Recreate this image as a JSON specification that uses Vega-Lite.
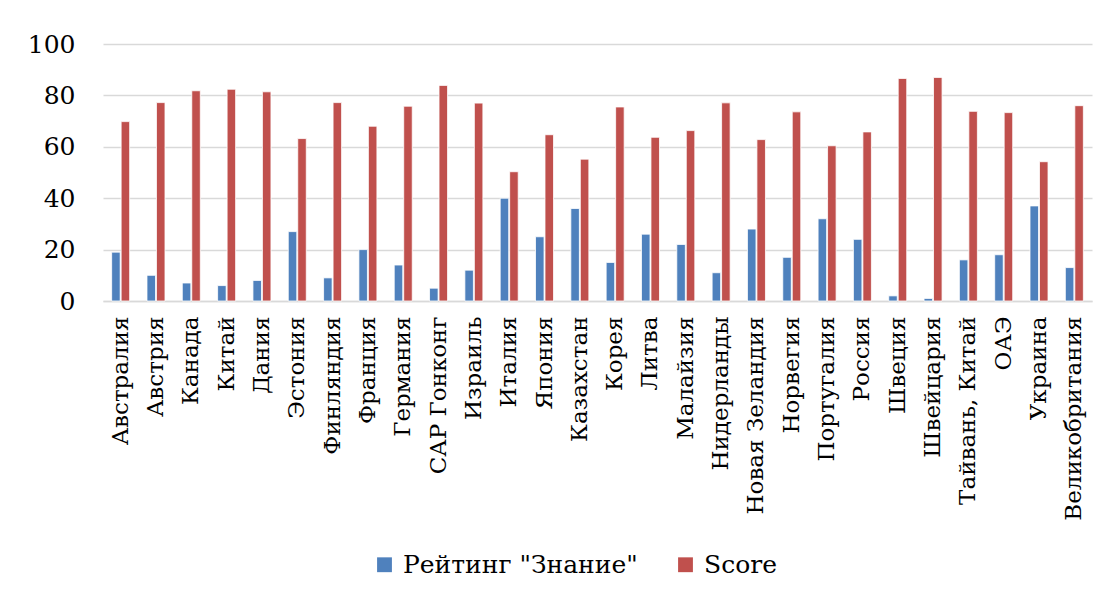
{
  "$schema": "https://vega.github.io/schema/vega-lite/v6.json",
  "autosize": {"type": "none"},
  "padding": {"left": 103, "top": 44, "right": 15, "bottom": 295},
  "width": 989,
  "height": 257,
  "background": "white",
  "data": {
    "values": [
      {"country": "Австралия", "series": "Рейтинг \"Знание\"", "value": 19},
      {"country": "Австралия", "series": "Score", "value": 69.8},
      {"country": "Австрия", "series": "Рейтинг \"Знание\"", "value": 10},
      {"country": "Австрия", "series": "Score", "value": 77.2},
      {"country": "Канада", "series": "Рейтинг \"Знание\"", "value": 7},
      {"country": "Канада", "series": "Score", "value": 81.8},
      {"country": "Китай", "series": "Рейтинг \"Знание\"", "value": 6},
      {"country": "Китай", "series": "Score", "value": 82.4},
      {"country": "Дания", "series": "Рейтинг \"Знание\"", "value": 8},
      {"country": "Дания", "series": "Score", "value": 81.4},
      {"country": "Эстония", "series": "Рейтинг \"Знание\"", "value": 27},
      {"country": "Эстония", "series": "Score", "value": 63.2},
      {"country": "Финляндия", "series": "Рейтинг \"Знание\"", "value": 9},
      {"country": "Финляндия", "series": "Score", "value": 77.2},
      {"country": "Франция", "series": "Рейтинг \"Знание\"", "value": 20},
      {"country": "Франция", "series": "Score", "value": 68},
      {"country": "Германия", "series": "Рейтинг \"Знание\"", "value": 14},
      {"country": "Германия", "series": "Score", "value": 75.8},
      {"country": "САР Гонконг", "series": "Рейтинг \"Знание\"", "value": 5},
      {"country": "САР Гонконг", "series": "Score", "value": 83.9},
      {"country": "Израиль", "series": "Рейтинг \"Знание\"", "value": 12},
      {"country": "Израиль", "series": "Score", "value": 77},
      {"country": "Италия", "series": "Рейтинг \"Знание\"", "value": 40},
      {"country": "Италия", "series": "Score", "value": 50.3},
      {"country": "Япония", "series": "Рейтинг \"Знание\"", "value": 25},
      {"country": "Япония", "series": "Score", "value": 64.7},
      {"country": "Казахстан", "series": "Рейтинг \"Знание\"", "value": 36},
      {"country": "Казахстан", "series": "Score", "value": 55.2},
      {"country": "Корея", "series": "Рейтинг \"Знание\"", "value": 15},
      {"country": "Корея", "series": "Score", "value": 75.5},
      {"country": "Литва", "series": "Рейтинг \"Знание\"", "value": 26},
      {"country": "Литва", "series": "Score", "value": 63.7},
      {"country": "Малайзия", "series": "Рейтинг \"Знание\"", "value": 22},
      {"country": "Малайзия", "series": "Score", "value": 66.3},
      {"country": "Нидерланды", "series": "Рейтинг \"Знание\"", "value": 11},
      {"country": "Нидерланды", "series": "Score", "value": 77.1},
      {"country": "Новая Зеландия", "series": "Рейтинг \"Знание\"", "value": 28},
      {"country": "Новая Зеландия", "series": "Score", "value": 62.8},
      {"country": "Норвегия", "series": "Рейтинг \"Знание\"", "value": 17},
      {"country": "Норвегия", "series": "Score", "value": 73.6},
      {"country": "Португалия", "series": "Рейтинг \"Знание\"", "value": 32},
      {"country": "Португалия", "series": "Score", "value": 60.4},
      {"country": "Россия", "series": "Рейтинг \"Знание\"", "value": 24},
      {"country": "Россия", "series": "Score", "value": 65.8},
      {"country": "Швеция", "series": "Рейтинг \"Знание\"", "value": 2},
      {"country": "Швеция", "series": "Score", "value": 86.6},
      {"country": "Швейцария", "series": "Рейтинг \"Знание\"", "value": 1},
      {"country": "Швейцария", "series": "Score", "value": 87},
      {"country": "Тайвань, Китай", "series": "Рейтинг \"Знание\"", "value": 16},
      {"country": "Тайвань, Китай", "series": "Score", "value": 73.8},
      {"country": "ОАЭ", "series": "Рейтинг \"Знание\"", "value": 18},
      {"country": "ОАЭ", "series": "Score", "value": 73.3},
      {"country": "Украина", "series": "Рейтинг \"Знание\"", "value": 37},
      {"country": "Украина", "series": "Score", "value": 54.2},
      {"country": "Великобритания", "series": "Рейтинг \"Знание\"", "value": 13},
      {"country": "Великобритания", "series": "Score", "value": 76}
    ]
  },
  "mark": {"type": "bar", "stroke": "white", "strokeWidth": 0.8},
  "encoding": {
    "x": {
      "field": "country",
      "type": "nominal",
      "sort": null,
      "scale": {"paddingInner": 0.49, "paddingOuter": 0.245},
      "axis": {
        "title": null,
        "labelAngle": -90,
        "labelFont": "DejaVu Serif",
        "labelFontSize": 23,
        "labelColor": "black",
        "labelPadding": 15,
        "labelLimit": 0,
        "ticks": false,
        "domainColor": "#d9d9d9",
        "domainWidth": 1.5,
        "grid": false
      }
    },
    "xOffset": {
      "field": "series",
      "type": "nominal",
      "sort": ["Рейтинг \"Знание\"", "Score"],
      "scale": {"paddingInner": 0.1}
    },
    "y": {
      "field": "value",
      "type": "quantitative",
      "scale": {"domain": [0, 100], "nice": false},
      "axis": {
        "title": null,
        "values": [0, 20, 40, 60, 80, 100],
        "labelFont": "DejaVu Serif",
        "labelFontSize": 25,
        "labelColor": "black",
        "labelPadding": 28,
        "ticks": false,
        "domain": false,
        "gridColor": "#d9d9d9",
        "gridWidth": 1.5
      }
    },
    "color": {
      "field": "series",
      "type": "nominal",
      "sort": ["Рейтинг \"Знание\"", "Score"],
      "scale": {"domain": ["Рейтинг \"Знание\"", "Score"], "range": ["#4f81bd", "#c0504d"]},
      "legend": {
        "title": null,
        "orient": "none",
        "direction": "horizontal",
        "legendX": 269,
        "legendY": 508,
        "labelFont": "DejaVu Serif",
        "labelFontSize": 25,
        "labelColor": "black",
        "labelLimit": 0,
        "symbolType": "square",
        "symbolSize": 220,
        "symbolStrokeWidth": 0,
        "columnPadding": 35,
        "labelOffset": 6
      }
    }
  },
  "config": {"view": {"stroke": null}}
}
